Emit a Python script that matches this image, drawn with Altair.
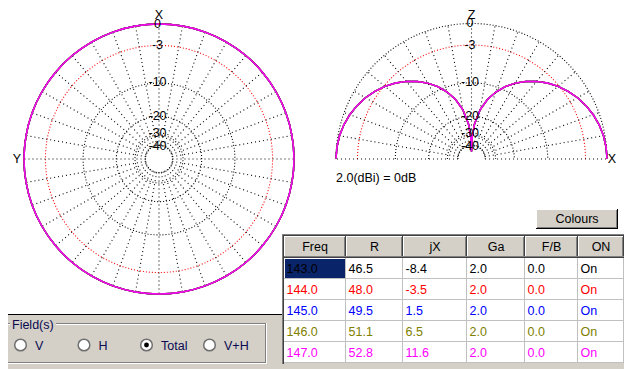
import altair as alt
import numpy as np
import pandas as pd

# ---------------- data ----------------
freqs = [143.0, 144.0, 145.0, 146.0, 147.0]
res_r = [46.5, 48.0, 49.5, 51.1, 52.8]
res_jx = [-8.4, -3.5, 1.5, 6.5, 11.6]
gain_ga = [2.0, 2.0, 2.0, 2.0, 2.0]
front_back = [0.0, 0.0, 0.0, 0.0, 0.0]
on_state = ["On", "On", "On", "On", "On"]
series_colors = ["#000000", "#ff0000", "#0000ff", "#808000", "#ff00ff"]
table_headers = ["Freq", "R", "jX", "Ga", "F/B", "ON"]

# horizontal pattern (azimuth, dB relative to 2.0 dBi)
az_deg = [0, 10, 20, 30, 40, 50, 60, 70, 80, 90, 100, 110, 120, 130, 140, 150, 160, 170,
          180, 190, 200, 210, 220, 230, 240, 250, 260, 270, 280, 290, 300, 310, 320, 330, 340, 350]
az_db = [0.0, 0.0, 0.0, 0.0, 0.0, 0.0, 0.0, 0.0, 0.0, 0.0, 0.0, 0.0, 0.0, 0.0, 0.0, 0.0, 0.0, 0.0,
         0.0, 0.0, 0.0, 0.0, 0.0, 0.0, 0.0, 0.0, 0.0, 0.0, 0.0, 0.0, 0.0, 0.0, 0.0, 0.0, 0.0, 0.0]

# vertical pattern (angle from zenith, negative towards -X; dB)
el_deg = [-90, -85, -80, -75, -70, -65, -60, -55, -50, -45, -40, -35, -30, -25, -20, -15, -10, -5, -2,
          0, 2, 5, 10, 15, 20, 25, 30, 35, 40, 45, 50, 55, 60, 65, 70, 75, 80, 85, 90]
el_db = [0.0, -0.05, -0.19, -0.44, -0.78, -1.22, -1.76, -2.41, -3.16, -4.03, -5.05, -6.23, -7.58,
         -9.19, -11.16, -13.7, -17.24, -23.27, -31.2,
         -50.0,
         -31.2, -23.27, -17.24, -13.7, -11.16, -9.19, -7.58, -6.23, -5.05, -4.03, -3.16, -2.41,
         -1.76, -1.22, -0.78, -0.44, -0.19, -0.05, 0.0]

ring_db = [0, -3, -10, -20, -30, -40]
ring_text = ["0", "-3", "-10", "-20", "-30", "-40"]
field_options = ["V", "H", "Total", "V+H"]
field_selected = "Total"
gain_note = "2.0(dBi) = 0dB"
colours_button = "Colours"
group_title = "Field(s)"

# ---------------- layout / style ----------------
FONT = "Liberation Sans"
FS = 12.5
GRAY = "#d4d0c8"
NAVY = "#0a246a"
TXT = "#0a0a50"
LEFT = dict(cx=159, cy=159, R=135)
RIGHT = dict(cx=471.5, cy=159, R=135.5)
col_edges = [284, 346, 403, 467, 525, 578, 624]
HEAD_Y0, HEAD_Y1 = 236, 258
ROW_H = 21
radio_x = [20.5, 84, 146.5, 209.5]
RADIO_Y = 345

XS = alt.Scale(domain=[8, 624], nice=False, zero=False)
YS = alt.Scale(domain=[369, 8], nice=False, zero=False)


def X(f):
    return alt.X(f"{f}:Q", scale=XS, axis=None)


def Y(f):
    return alt.Y(f"{f}:Q", scale=YS, axis=None)


def polar(chart, p):
    return (chart
            .transform_calculate(rr=f"{p['R']}*pow(10, datum.db/40)")
            .transform_calculate(px=f"{p['cx']} + datum.rr*sin(datum.ang*PI/180)")
            .transform_calculate(py=f"{p['cy']} - datum.rr*cos(datum.ang*PI/180)"))


layers = []

# ---- GUI panels ----
rects = pd.DataFrame([
    dict(x=3, x2=625, y=3, y2=235, c="#ffffff"),
    dict(x=3, x2=283, y=3, y2=314, c="#ffffff"),
    dict(x=284, x2=624, y=HEAD_Y0, y2=HEAD_Y1, c=GRAY),
    dict(x=284, x2=624, y=HEAD_Y1, y2=363, c="#ffffff"),
    dict(x=285, x2=345, y=259, y2=278, c=NAVY),
    dict(x=536, x2=618, y=209, y2=229, c=GRAY),
])
layers.append(alt.Chart(rects).mark_rect().encode(
    x=X("x"), x2="x2:Q", y=Y("y"), y2="y2:Q", color=alt.Color("c:N", scale=None)))

rules = [
    # white panel border
    (2.5, 2.5, 2, 315, "#000000"), (2, 626, 2.5, 2.5, "#000000"),
    (2, 283, 314.5, 314.5, "#000000"),
    # table outer border
    (282.5, 282.5, 234, 364, "#808080"), (283.5, 283.5, 235, 364, "#404040"),
    (282, 626, 234.5, 234.5, "#808080"), (283, 626, 235.5, 235.5, "#404040"),
    # Colours button
    (536, 617, 209.5, 209.5, "#ffffff"), (536.5, 536.5, 209, 228, "#ffffff"),
    (536, 618, 228.5, 228.5, "#000000"), (617.5, 617.5, 209, 229, "#000000"),
    (537, 617, 227.5, 227.5, "#808080"), (616.5, 616.5, 210, 228, "#808080"),
    # group box (etched)
    (4, 266, 323.5, 323.5, "#808080"), (4.5, 4.5, 323, 363, "#808080"),
    (265.5, 265.5, 323, 363, "#808080"), (4, 266, 362.5, 362.5, "#808080"),
    (5, 265, 324.5, 324.5, "#ffffff"), (5.5, 5.5, 324, 362, "#ffffff"),
    (266.5, 266.5, 323, 364, "#ffffff"), (4, 267, 363.5, 363.5, "#ffffff"),
]
for j in range(6):
    L, Rr = col_edges[j], col_edges[j + 1]
    rules += [
        (L, Rr - 1, HEAD_Y0 + 0.5, HEAD_Y0 + 0.5, "#ffffff"),
        (L + 0.5, L + 0.5, HEAD_Y0, HEAD_Y1 - 1, "#ffffff"),
        (Rr - 1.5, Rr - 1.5, HEAD_Y0 + 1, HEAD_Y1 - 1, "#808080"),
        (Rr - 0.5, Rr - 0.5, HEAD_Y0, HEAD_Y1, "#404040"),
        (L, Rr, HEAD_Y1 - 1.5, HEAD_Y1 - 1.5, "#808080"),
        (L, Rr, HEAD_Y1 - 0.5, HEAD_Y1 - 0.5, "#404040"),
        (Rr - 0.5, Rr - 0.5, HEAD_Y1, 363, "#c0c0c0"),
    ]
for i in range(len(freqs)):
    yb = HEAD_Y1 + ROW_H * (i + 1) - 0.5
    rules.append((284, 624, yb, yb, "#c0c0c0"))
rules_df = pd.DataFrame(rules, columns=["x", "x2", "y", "y2", "c"])
layers.append(alt.Chart(rules_df).mark_rule(strokeWidth=1).encode(
    x=X("x"), x2="x2:Q", y=Y("y"), y2="y2:Q", color=alt.Color("c:N", scale=None)))

# group title background
layers.append(alt.Chart(pd.DataFrame([dict(x=10, x2=56, y=318, y2=331, c=GRAY)])).mark_rect().encode(
    x=X("x"), x2="x2:Q", y=Y("y"), y2="y2:Q", color=alt.Color("c:N", scale=None)))

# ---- polar grids ----
def grid_frames(angles, spoke_angles):
    ring_rows = []
    for k, db in enumerate(ring_db):
        col = "#ff0000" if db == -3 else "#000000"
        for n, a in enumerate(angles):
            ring_rows.append(dict(g=f"r{k}", idx=n, ang=float(a), db=db, c=col))
    spoke_rows = []
    for a in spoke_angles:
        spoke_rows.append(dict(g=f"s{a}", idx=0, ang=float(a), db=ring_db[-1], c="#000000"))
        spoke_rows.append(dict(g=f"s{a}", idx=1, ang=float(a), db=ring_db[0], c="#000000"))
    return pd.DataFrame(ring_rows), pd.DataFrame(spoke_rows)


for p, angs, sp in [
    (LEFT, np.arange(0, 361, 2), list(range(0, 360, 10))),
    (RIGHT, np.arange(-90, 91, 2), list(range(-90, 91, 10))),
]:
    rdf, sdf = grid_frames(angs, sp)
    layers.append(polar(alt.Chart(rdf), p).mark_line(strokeWidth=1.1, strokeDash=[1, 2]).encode(
        x=X("px"), y=Y("py"), detail="g:N", order="idx:Q", color=alt.Color("c:N", scale=None)))
    layers.append(polar(alt.Chart(sdf), p).mark_line(strokeWidth=1.1, strokeDash=[1, 3]).encode(
        x=X("px"), y=Y("py"), detail="g:N", order="idx:Q", color=alt.Color("c:N", scale=None)))

# ---- radiation patterns ----
for i, f in enumerate(freqs):
    hdf = pd.DataFrame(dict(idx=range(len(az_deg)), ang=az_deg, db=az_db))
    layers.append(polar(alt.Chart(hdf), LEFT).mark_line(
        strokeWidth=1.4, color=series_colors[i], interpolate="cardinal-closed").encode(
        x=X("px"), y=Y("py"), order="idx:Q"))
    vdf = pd.DataFrame(dict(idx=range(len(el_deg)), ang=el_deg, db=el_db))
    layers.append(polar(alt.Chart(vdf), RIGHT).mark_line(
        strokeWidth=1.4, color=series_colors[i]).encode(
        x=X("px"), y=Y("py"), order="idx:Q"))

# ---- texts ----
center_txt = []
left_txt = []
label_shift = {0: -0.5, -3: 0, -10: -1, -20: -0.5, -30: -1.5, -40: 0.5}
for p in (LEFT, RIGHT):
    for db, t in zip(ring_db, ring_text):
        r = p["R"] * 10 ** (db / 40)
        center_txt.append(dict(x=p["cx"] - 1.5, y=p["cy"] - r + label_shift[db], t=t, c="#000000"))
center_txt += [
    dict(x=LEFT["cx"], y=14.5, t="X", c="#000000"),
    dict(x=17, y=LEFT["cy"], t="Y", c="#000000"),
    dict(x=RIGHT["cx"], y=14.5, t="Z", c="#000000"),
    dict(x=612, y=RIGHT["cy"], t="X", c="#000000"),
    dict(x=577, y=219, t=colours_button, c="#000000"),
]
for j, h in enumerate(table_headers):
    center_txt.append(dict(x=(col_edges[j] + col_edges[j + 1]) / 2, y=247, t=h, c="#000000"))
for i in range(len(freqs)):
    vals = [f"{freqs[i]:.1f}", f"{res_r[i]:.1f}", f"{res_jx[i]:.1f}", f"{gain_ga[i]:.1f}",
            f"{front_back[i]:.1f}", on_state[i]]
    for j, v in enumerate(vals):
        left_txt.append(dict(x=col_edges[j] + 2.5, y=HEAD_Y1 + ROW_H * i + 10.5, t=v, c=series_colors[i]))
left_txt.append(dict(x=336, y=178, t=gain_note, c="#000000"))
left_txt.append(dict(x=12, y=325, t=group_title, c=TXT))
for xr, opt in zip(radio_x, field_options):
    left_txt.append(dict(x=xr + 14.5, y=RADIO_Y + 0.5, t=opt, c=TXT))

layers.append(alt.Chart(pd.DataFrame(center_txt)).mark_text(
    font=FONT, fontSize=FS, align="center", baseline="middle").encode(
    x=X("x"), y=Y("y"), text="t:N", color=alt.Color("c:N", scale=None)))
layers.append(alt.Chart(pd.DataFrame(left_txt)).mark_text(
    font=FONT, fontSize=FS, align="left", baseline="middle").encode(
    x=X("x"), y=Y("y"), text="t:N", color=alt.Color("c:N", scale=None)))

# ---- radio buttons ----
radio_df = pd.DataFrame(dict(x=radio_x, y=[RADIO_Y] * 4, opt=field_options))
layers.append(alt.Chart(radio_df).mark_point(
    shape="circle", filled=True, fill="#ffffff", stroke="#707070", strokeWidth=1.5, size=135, opacity=1).encode(
    x=X("x"), y=Y("y")))
sel_df = radio_df[radio_df["opt"] == field_selected]
layers.append(alt.Chart(sel_df).mark_point(
    shape="circle", filled=True, color="#000000", size=24, opacity=1).encode(
    x=X("x"), y=Y("y")))

chart = alt.layer(*layers).properties(
    width=616, height=361, autosize=alt.AutoSizeParams(type="none"), padding=0, background=GRAY
).configure_view(strokeWidth=0)

chart.save("out.html", embed_options={"renderer": "svg", "actions": False})
